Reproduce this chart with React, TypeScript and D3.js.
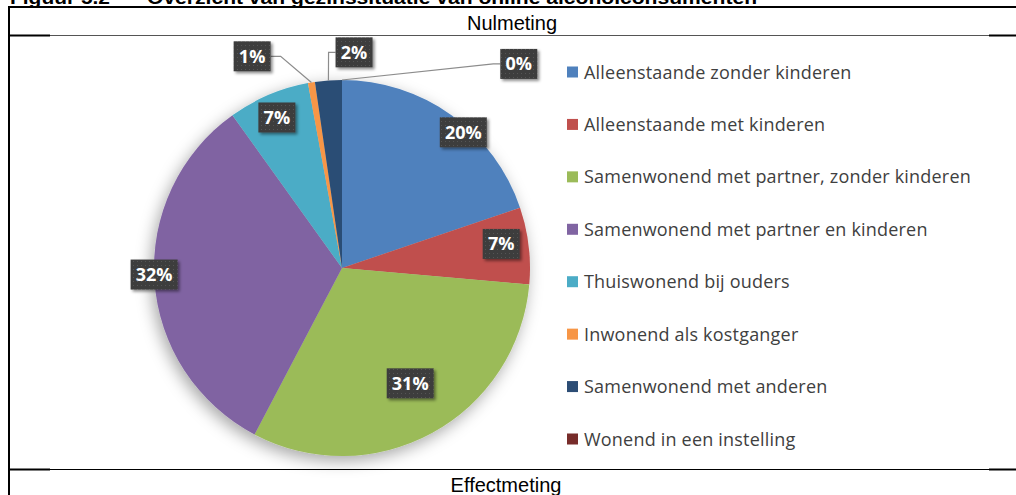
import React from "react";
import * as d3 from "d3";

// ---- data ----
const categories = [
  "Alleenstaande zonder kinderen",
  "Alleenstaande met kinderen",
  "Samenwonend met partner, zonder kinderen",
  "Samenwonend met partner en kinderen",
  "Thuiswonend bij ouders",
  "Inwonend als kostganger",
  "Samenwonend met anderen",
  "Wonend in een instelling",
];
const values = [19.8, 6.6, 31.3, 32.4, 7.0, 0.6, 2.3, 0];
const colors = ["#4F81BD", "#C0504D", "#9BBB59", "#8064A2", "#4BACC6", "#F79646", "#2C4D75", "#772C2A"];
const panelTitles = ["Nulmeting", "Effectmeting"];
const figureNumber = "Figuur 5.2";
const figureTitle = "Overzicht van gezinssituatie van online alcoholconsumenten";

// ---- layout (label placement, polar relative to pie centre; degrees clockwise from top) ----
const labelPolar = [
  { r: 182, a: 41.8, outside: false },
  { r: 161, a: 81.4, outside: false },
  { r: 134, a: 149.4, outside: false },
  { r: 188, a: 268, outside: false },
  { r: 164, a: 336.6, outside: false },
  { r: 230, a: 337, outside: true, side: "right" },
  { r: 216, a: 3.2, outside: true, side: "left" },
  { r: 270, a: 40.9, outside: true, side: "left" },
];

const W = 1016;
const H = 495;
const cx = 342;
const cy = 268;
const R = 188;

export default function App() {
  const pie = d3.pie<number>().sort(null).value((d) => d).startAngle(0).endAngle(2 * Math.PI);
  const arcs = pie(values);
  const arcGen = d3.arc<d3.PieArcDatum<number>>().innerRadius(0).outerRadius(R);

  const legendY = d3.scalePoint<string>().domain(categories).range([72, 439]);

  const polar = (r: number, deg: number) => {
    const t = (deg * Math.PI) / 180;
    return [cx + r * Math.sin(t), cy - r * Math.cos(t)];
  };

  const boxH = 30;
  const font = "'Open Sans', 'DejaVu Sans', sans-serif";
  const arial = "Arial, 'Liberation Sans', sans-serif";

  return (
    <svg width={W} height={H} style={{ position: "absolute", left: 0, top: 0, background: "#fff" }}>
      <defs>
        <filter id="pieShadow" x="-20%" y="-20%" width="140%" height="140%">
          <feDropShadow dx="-3" dy="5" stdDeviation="8" floodColor="#000" floodOpacity="0.35" />
        </filter>
        <filter id="boxShadow" x="-30%" y="-30%" width="160%" height="160%">
          <feDropShadow dx="2" dy="2" stdDeviation="1.8" floodColor="#000" floodOpacity="0.45" />
        </filter>
        <pattern id="dots" width="4" height="4" patternUnits="userSpaceOnUse">
          <rect width="4" height="4" fill="#3d3d3d" />
          <rect x="1" y="1" width="1" height="1" fill="#555" />
        </pattern>
      </defs>

      {/* figure title (cropped at top, as in the source) */}
      <text x={10} y={4} fontFamily={arial} fontWeight="bold" fontSize={18} fill="#000" textLength={100} lengthAdjust="spacingAndGlyphs">
        {figureNumber}
      </text>
      <text x={147} y={4} fontFamily={arial} fontWeight="bold" fontSize={18} fill="#000" textLength={610} lengthAdjust="spacingAndGlyphs">
        {figureTitle}
      </text>

      {/* table frame */}
      <line x1={8} x2={W} y1={7} y2={7} stroke="#000" strokeWidth={2} />
      <line x1={9} x2={9} y1={6} y2={H} stroke="#000" strokeWidth={2} />
      <line x1={50} x2={989} y1={35.5} y2={35.5} stroke="#555" strokeWidth={1} />
      <line x1={8} x2={50} y1={35.5} y2={35.5} stroke="#000" strokeWidth={2} />
      <line x1={989} x2={W} y1={35.5} y2={35.5} stroke="#000" strokeWidth={2} />
      <line x1={50} x2={989} y1={469.5} y2={469.5} stroke="#000" strokeWidth={1} />
      <line x1={8} x2={50} y1={469.5} y2={469.5} stroke="#000" strokeWidth={2} />
      <line x1={989} x2={W} y1={469.5} y2={469.5} stroke="#000" strokeWidth={2} />

      <text x={512} y={30} textAnchor="middle" fontFamily={arial} fontSize={20} fill="#000">
        {panelTitles[0]}
      </text>
      <text x={506} y={492} textAnchor="middle" fontFamily={arial} fontSize={20} fill="#000">
        {panelTitles[1]}
      </text>

      {/* pie */}
      <g transform={`translate(${cx},${cy})`} filter="url(#pieShadow)">
        {arcs.map((a, i) => (
          <path key={i} d={arcGen(a) || ""} fill={colors[i]} />
        ))}
      </g>

      {/* leader lines */}
      {arcs.map((a, i) => {
        const L = labelPolar[i];
        if (!L.outside) return null;
        const midDeg = (((a.startAngle + a.endAngle) / 2) * 180) / Math.PI;
        const [px, py] = polar(R, midDeg);
        const [bx, by] = polar(L.r, L.a);
        const label = `${Math.round(values[i])}%`;
        const w = 10 * label.length + 17;
        const ex = L.side === "right" ? bx + w / 2 : bx - w / 2;
        const elbowX = L.side === "right" ? ex + 10 : ex - 7;
        return (
          <polyline key={"l" + i} points={`${px},${py} ${elbowX},${by} ${ex},${by}`} fill="none" stroke="#8c8c8c" strokeWidth={1.2} />
        );
      })}

      {/* data labels */}
      {arcs.map((a, i) => {
        const L = labelPolar[i];
        const [bx, by] = polar(L.r, L.a);
        const label = `${Math.round(values[i])}%`;
        const w = 10 * label.length + 17;
        return (
          <g key={"b" + i}>
            <rect x={bx - w / 2} y={by - boxH / 2} width={w} height={boxH} fill="url(#dots)" filter="url(#boxShadow)" />
            <text x={bx} y={by + 6.5} textAnchor="middle" fontFamily={font} fontWeight="bold" fontSize={18} fill="#fff">
              {label}
            </text>
          </g>
        );
      })}

      {/* legend */}
      {categories.map((c, i) => {
        const y = legendY(c) as number;
        return (
          <g key={"g" + i}>
            <rect x={567} y={y - 5.5} width={11} height={11} fill={colors[i]} />
            <text x={584} y={y + 6.5} fontFamily={font} fontSize={18} letterSpacing={0.2} fill="#404040">
              {c}
            </text>
          </g>
        );
      })}
    </svg>
  );
}
